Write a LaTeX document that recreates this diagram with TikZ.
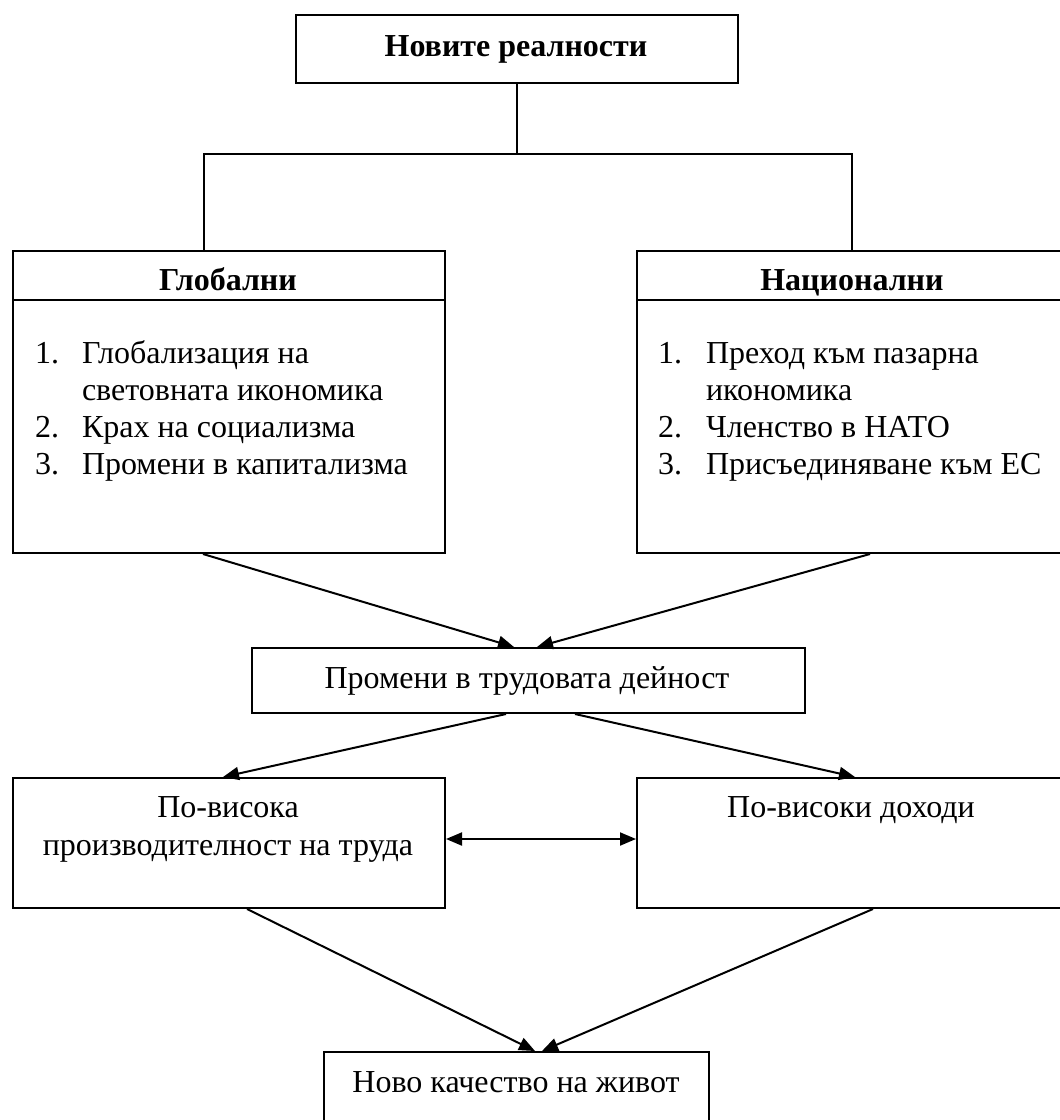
\documentclass[tikz,border=0pt]{standalone}
\usepackage{fontspec}
\setmainfont{Liberation Serif}
\usetikzlibrary{arrows.meta,calc}

\begin{document}
\begin{tikzpicture}[x=1pt,y=-1pt,
  line width=2pt,
  box/.style={draw,line width=2pt,inner sep=0pt,anchor=north west},
  lbl/.style={anchor=base,inner sep=0pt,font=\fontsize{32}{36.8}\selectfont},
  hdr/.style={anchor=base,inner sep=0pt,font=\fontsize{32}{36.8}\selectfont\bfseries},
  item/.style={lbl,anchor=base west},
  arr/.style={-{Triangle[length=16pt,width=13pt]}},
  darr/.style={{Triangle[length=16pt,width=13pt]}-{Triangle[length=16pt,width=13pt]}},
]
\useasboundingbox (0,0) rectangle (1060,1120);
\clip (0,0) rectangle (1060,1120);

% boxes
\node[box,minimum width=442pt,minimum height=68pt]  (top)  at (295,14)   {};
\node[box,minimum width=432pt,minimum height=302pt] (glob) at (12,250)   {};
\node[box,minimum width=440pt,minimum height=302pt] (nat)  at (636,250)  {};
\node[box,minimum width=553pt,minimum height=65pt]  (mid)  at (251,647)  {};
\node[box,minimum width=432pt,minimum height=130pt] (prod) at (12,777)   {};
\node[box,minimum width=440pt,minimum height=130pt] (inc)  at (636,777)  {};
\node[box,minimum width=385pt,minimum height=90pt]  (new)  at (323,1051) {};

% header separators
\draw ([yshift=-50pt]glob.north west) -- ([yshift=-50pt]glob.north east);
\draw ([yshift=-50pt]nat.north west) -- ([yshift=-50pt]nat.north east);

% texts
\node[hdr] (t-top)  at (516,56)  {Новите реалности};
\node[hdr] (t-glob) at (228,290) {Глобални};
\node[hdr] (t-nat)  at (852,290) {Национални};

\node[item] (g1n) at (34,363) {1.};
\node[item] (g1)  at (81,363) {Глобализация на};
\node[item] (g1b) at (81,400) {световната икономика};
\node[item] (g2n) at (34,437) {2.};
\node[item] (g2)  at (81,437) {Крах на социализма};
\node[item] (g3n) at (34,474) {3.};
\node[item] (g3)  at (81,474) {Промени в капитализма};

\node[item] (n1n) at (657,363) {1.};
\node[item] (n1)  at (705,363) {Преход към пазарна};
\node[item] (n1b) at (705,400) {икономика};
\node[item] (n2n) at (657,437) {2.};
\node[item] (n2)  at (705,437) {Членство в НАТО};
\node[item] (n3n) at (657,474) {3.};
\node[item] (n3)  at (705,474) {Присъединяване към ЕС};

\node[lbl] (t-mid)   at (527,688)  {Промени в трудовата дейност};
\node[lbl] (t-prod1) at (228,817)  {По-висока};
\node[lbl] (t-prod2) at (228,855)  {производителност на труда};
\node[lbl] (t-inc)   at (851,817)  {По-високи доходи};
\node[lbl] (t-new)   at (516,1092) {Ново качество на живот};

% tree connector from the top box
\coordinate (jl) at (204,154);
\coordinate (jr) at (852,154);
\draw (top.south) -- (top.south |- jl);
\draw (glob.north -| jl) -- (jl) -- (jr) -- (nat.north -| jr);

% arrows
\draw[arr] ([xshift=191pt]glob.south west) -- ([xshift=263pt]mid.north west);
\draw[arr] ([xshift=234pt]nat.south west)  -- ([xshift=286pt]mid.north west);
\draw[arr] ([xshift=255pt]mid.south west)  -- ([xshift=211pt]prod.north west);
\draw[arr] ([xshift=324pt]mid.south west)  -- ([xshift=219pt]inc.north west);
\draw[darr] ([yshift=4pt]prod.east) -- ([yshift=4pt]prod.east -| inc.west);
\draw[arr] ([xshift=235pt]prod.south west) -- ([xshift=212pt]new.north west);
\draw[arr] ([xshift=237pt]inc.south west)  -- ([xshift=219pt]new.north west);
\end{tikzpicture}
\end{document}
